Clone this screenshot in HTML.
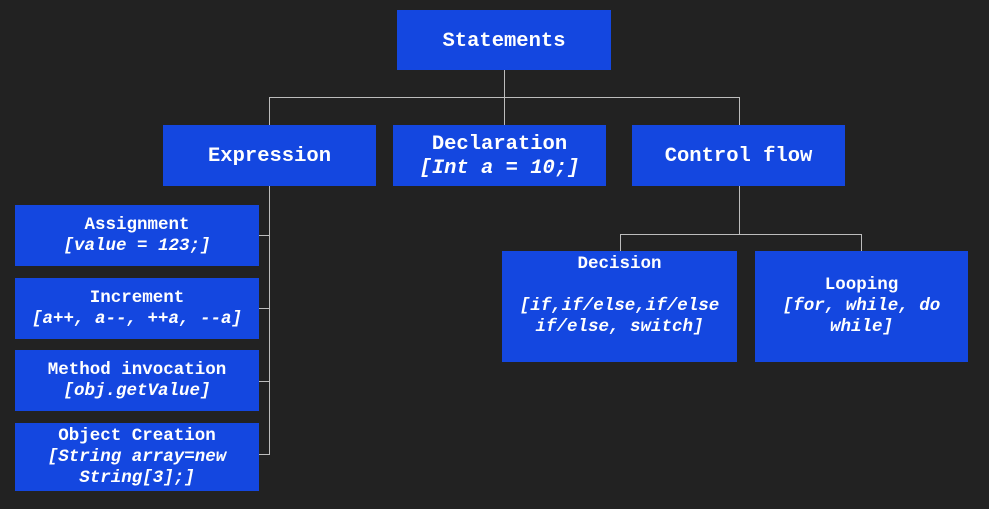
<!DOCTYPE html>
<html><head><style>
body{margin:0;width:989px;height:509px;background:#222222;position:relative;overflow:hidden;font-family:"Liberation Mono",monospace;font-weight:bold;color:#fff}
.b{position:absolute;background:#1447e0;display:flex;flex-direction:column;align-items:center;justify-content:center;text-align:center;box-sizing:border-box}
.L{font-size:20.5px;line-height:24px}
.S{font-size:17.5px;line-height:21px}
i{font-style:italic}
.l{position:absolute;background:#bdbdbd}
</style></head><body>
<div class="l" style="left:504px;top:70px;width:1px;height:55px"></div>
<div class="l" style="left:269px;top:97px;width:471px;height:1px"></div>
<div class="l" style="left:269px;top:97px;width:1px;height:28px"></div>
<div class="l" style="left:739px;top:97px;width:1px;height:28px"></div>
<div class="l" style="left:269px;top:186px;width:1px;height:269px"></div>
<div class="l" style="left:259px;top:235px;width:10px;height:1px"></div>
<div class="l" style="left:259px;top:308px;width:10px;height:1px"></div>
<div class="l" style="left:259px;top:381px;width:10px;height:1px"></div>
<div class="l" style="left:259px;top:454px;width:10px;height:1px"></div>
<div class="l" style="left:739px;top:186px;width:1px;height:48px"></div>
<div class="l" style="left:620px;top:234px;width:242px;height:1px"></div>
<div class="l" style="left:620px;top:234px;width:1px;height:17px"></div>
<div class="l" style="left:861px;top:234px;width:1px;height:17px"></div>

<div class="b L" style="left:397px;top:10px;width:214px;height:60px;padding-top:3px">Statements</div>
<div class="b L" style="left:163px;top:125px;width:213px;height:61px;padding-top:3px">Expression</div>
<div class="b L" style="left:393px;top:125px;width:213px;height:61px;padding-top:3px"><div>Declaration</div><i>[Int a = 10;]</i></div>
<div class="b L" style="left:632px;top:125px;width:213px;height:61px;padding-top:3px">Control flow</div>

<div class="b S" style="left:15px;top:205px;width:244px;height:61px"><div>Assignment</div><i>[value = 123;]</i></div>
<div class="b S" style="left:15px;top:278px;width:244px;height:61px"><div>Increment</div><i>[a++, a--, ++a, --a]</i></div>
<div class="b S" style="left:15px;top:350px;width:244px;height:61px"><div>Method invocation</div><i>[obj.getValue]</i></div>
<div class="b S" style="left:15px;top:423px;width:244px;height:68px"><div>Object Creation</div><i>[String array=new<br>String[3];]</i></div>

<div class="b S" style="left:502px;top:251px;width:235px;height:111px;justify-content:flex-start;padding-top:3px"><div>Decision</div><div style="height:21px"></div><i>[if,if/else,if/else<br>if/else, switch]</i></div>
<div class="b S" style="left:755px;top:251px;width:213px;height:111px;justify-content:flex-start;padding-top:24px"><div>Looping</div><i>[for, while, do<br>while]</i></div>
</body></html>
